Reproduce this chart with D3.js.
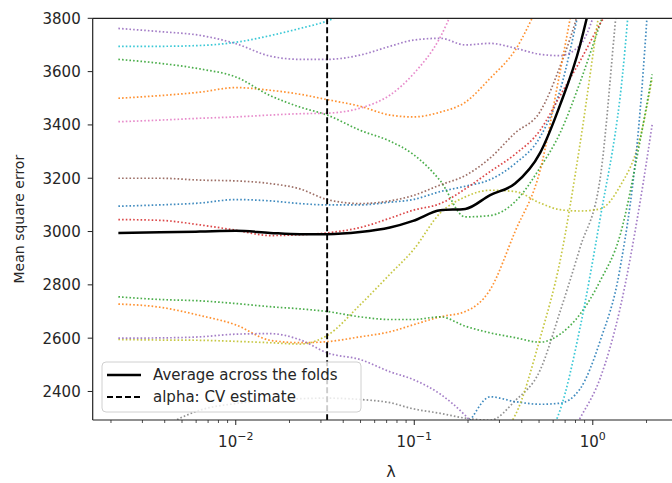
<!DOCTYPE html>
<html>
<head>
<meta charset="utf-8">
<script src="https://cdn.jsdelivr.net/npm/d3@7"></script>
<style>
  body { margin: 0; background: #fff; }
  svg { font-family: "DejaVu Sans", sans-serif; }
</style>
</head>
<body>
<div id="chart"></div>
<script>
// regularisation path (lambda) shared by every fold
const lambdas = [0.0022, 0.00377, 0.00631, 0.01, 0.0156, 0.0229, 0.0325, 0.0497, 0.0731, 0.0985,
  0.140, 0.193, 0.266, 0.367, 0.507, 0.656, 0.849, 1.10, 1.42, 1.84, 2.15];

// mean square error per fold
const foldPurpleA = [3762, 3750, 3736, 3705, 3658, 3646, 3646, 3662, 3695, 3718, 3725, 3700, 3706, 3688, 3665, 3660, 3700, 3900, 4300, 4700, 5000];
const foldCyanA   = [3695, 3695, 3698, 3710, 3735, 3762, 3790, 3850, 3950, 4050, 4200, 4400, 4600, 4800, 5000, 5200, 5400, 5600, 5800, 6000, 6200];
const foldGreenA  = [3646, 3631, 3610, 3580, 3510, 3467, 3437, 3380, 3339, 3290, 3190, 3055, 3060, 3112, 3240, 3370, 3560, 3780, 4000, 4200, 4400];
const foldOrangeA = [3500, 3510, 3523, 3540, 3530, 3515, 3495, 3470, 3437, 3430, 3448, 3485, 3575, 3680, 3860, 4000, 4200, 4400, 4600, 4800, 5000];
const foldPinkA   = [3412, 3418, 3425, 3430, 3437, 3442, 3444, 3463, 3512, 3590, 3730, 3950, 4200, 4400, 4600, 4800, 5000, 5200, 5400, 5600, 5800];
const foldBrownA  = [3200, 3200, 3193, 3190, 3180, 3160, 3120, 3105, 3115, 3135, 3175, 3210, 3276, 3370, 3450, 3620, 3850, 4200, 4500, 4800, 5000];
const foldBlueA   = [3095, 3100, 3107, 3120, 3115, 3105, 3100, 3100, 3110, 3120, 3150, 3170, 3195, 3255, 3355, 3530, 3850, 4200, 4500, 4800, 5000];
const foldRedA    = [3045, 3042, 3025, 3005, 2985, 2988, 2995, 3015, 3050, 3080, 3105, 3160, 3225, 3290, 3380, 3510, 3640, 3780, 3900, 4100, 4300];
const foldGreenB  = [2755, 2745, 2740, 2730, 2718, 2710, 2700, 2680, 2670, 2670, 2680, 2645, 2620, 2602, 2585, 2615, 2690, 2815, 2985, 3340, 3590];
const foldOrangeB = [2728, 2716, 2685, 2650, 2592, 2583, 2587, 2605, 2624, 2650, 2680, 2700, 2782, 3000, 3230, 3600, 4000, 4400, 4800, 5000, 5200];
const foldPurpleB = [2600, 2601, 2605, 2615, 2617, 2594, 2545, 2520, 2474, 2445, 2390, 2310, 2200, 2150, 2130, 2170, 2300, 2450, 2710, 3110, 3400];
const foldOliveA  = [2595, 2593, 2592, 2588, 2583, 2578, 2610, 2725, 2840, 2930, 3070, 3130, 3155, 3150, 3107, 3082, 3077, 3085, 3170, 3350, 3575];
const foldGray    = [2150, 2260, 2330, 2355, 2368, 2373, 2375, 2370, 2358, 2335, 2318, 2300, 2292, 2365, 2480, 2700, 2940, 3200, 3950, 4400, 4700];
const foldOliveB  = [2000, 2000, 2010, 2020, 2030, 2040, 2050, 2060, 2080, 2100, 2130, 2170, 2220, 2310, 2600, 2890, 3330, 3850, 4300, 4700, 5000];
const foldBlueB   = [2050, 2060, 2070, 2080, 2090, 2100, 2110, 2130, 2150, 2180, 2220, 2270, 2380, 2362, 2352, 2356, 2410, 2590, 2860, 3450, 4100];
const foldCyanB   = [1950, 1950, 1960, 1970, 1980, 1990, 2000, 2010, 2020, 2040, 2060, 2080, 2110, 2150, 2200, 2330, 2640, 3050, 3500, 4300, 4600];

const avgMse = [2995, 2997, 3000, 3003, 2995, 2990, 2990, 2998, 3015, 3040, 3080, 3085, 3137, 3180, 3295, 3475, 3700, 4050, 4600, 5000, 5300];

const alphaCV = 0.0325;
const yTicks = [2400, 2600, 2800, 3000, 3200, 3400, 3600, 3800];
const xTickExps = [-2, -1, 0];
const legendLabels = ["Average across the folds", "alpha: CV estimate"];

const folds = [
  {values: foldBlueA, color: "#1f77b4"},
  {values: foldOrangeA, color: "#ff7f0e"},
  {values: foldGreenA, color: "#2ca02c"},
  {values: foldRedA, color: "#d62728"},
  {values: foldPurpleA, color: "#9467bd"},
  {values: foldBrownA, color: "#8c564b"},
  {values: foldPinkA, color: "#e377c2"},
  {values: foldGray, color: "#7f7f7f"},
  {values: foldOliveA, color: "#bcbd22"},
  {values: foldCyanA, color: "#17becf"},
  {values: foldBlueB, color: "#1f77b4"},
  {values: foldOrangeB, color: "#ff7f0e"},
  {values: foldGreenB, color: "#2ca02c"},
  {values: foldPurpleB, color: "#9467bd"},
  {values: foldOliveB, color: "#bcbd22"},
  {values: foldCyanB, color: "#17becf"}
];

const width = 672, height = 483;
const plot = {left: 92.7, right: 680, top: 18.3, bottom: 420};

const svg = d3.select("#chart").append("svg")
  .attr("width", width)
  .attr("height", height);

const x = d3.scaleLog().domain([0.00158, 3.08]).range([plot.left, plot.right]);
const y = d3.scaleLinear().domain([2293, 3800]).range([plot.bottom, plot.top]);

svg.append("clipPath").attr("id", "clip")
  .append("rect")
  .attr("x", plot.left).attr("y", plot.top)
  .attr("width", plot.right - plot.left).attr("height", plot.bottom - plot.top);

const area = svg.append("g").attr("clip-path", "url(#clip)");

const line = d3.line()
  .x((d, i) => x(lambdas[i]))
  .y(d => y(d))
  .curve(d3.curveMonotoneX);

// folds, dotted
area.selectAll(".fold")
  .data(folds)
  .enter()
  .append("path")
    .attr("class", "fold")
    .attr("fill", "none")
    .attr("stroke", d => d.color)
    .attr("stroke-width", 1.7)
    .attr("stroke-dasharray", "1.6,2.1")
    .attr("opacity", 0.85)
    .attr("d", d => line(d.values));

// average
area.append("path")
  .attr("fill", "none")
  .attr("stroke", "#000")
  .attr("stroke-width", 2.5)
  .attr("d", line(avgMse));

// CV estimate
area.append("line")
  .attr("x1", x(alphaCV)).attr("x2", x(alphaCV))
  .attr("y1", plot.top).attr("y2", plot.bottom)
  .attr("stroke", "#000")
  .attr("stroke-width", 1.9)
  .attr("stroke-dasharray", "6,3");

// spines
svg.append("line")
  .attr("x1", plot.left).attr("x2", plot.left)
  .attr("y1", plot.top).attr("y2", plot.bottom)
  .attr("stroke", "#222").attr("stroke-width", 1.2);
svg.append("line")
  .attr("x1", plot.left).attr("x2", plot.right)
  .attr("y1", plot.bottom).attr("y2", plot.bottom)
  .attr("stroke", "#222").attr("stroke-width", 1.2);
svg.append("line")
  .attr("x1", plot.left).attr("x2", plot.right)
  .attr("y1", plot.top).attr("y2", plot.top)
  .attr("stroke", "#222").attr("stroke-width", 1.2);

// y axis
const yAxis = svg.append("g");
yTicks.forEach(t => {
  yAxis.append("line")
    .attr("x1", plot.left - 5).attr("x2", plot.left)
    .attr("y1", y(t)).attr("y2", y(t))
    .attr("stroke", "#222").attr("stroke-width", 1);
  yAxis.append("text")
    .attr("x", plot.left - 12).attr("y", y(t))
    .attr("dy", "0.36em")
    .attr("text-anchor", "end")
    .attr("font-size", 15)
    .attr("fill", "#262626")
    .text(t);
});

// x axis (log ticks)
const xAxis = svg.append("g");
for (let e = -3; e <= 0; e++) {
  for (let m = 1; m <= 9; m++) {
    const v = m * Math.pow(10, e);
    const px = x(v);
    if (px < plot.left || px > plot.right) continue;
    xAxis.append("line")
      .attr("x1", px).attr("x2", px)
      .attr("y1", plot.bottom).attr("y2", plot.bottom + (m === 1 ? 5 : 3))
      .attr("stroke", "#222").attr("stroke-width", m === 1 ? 1 : 0.8);
  }
}
xTickExps.forEach(e => {
  const t = xAxis.append("text")
    .attr("x", x(Math.pow(10, e)))
    .attr("y", 447)
    .attr("text-anchor", "middle")
    .attr("font-size", 15)
    .attr("fill", "#262626");
  t.append("tspan").text("10");
  t.append("tspan").attr("dy", -7).attr("font-size", 11).text(e === 0 ? "0" : "\u2212" + Math.abs(e));
});

// axis labels
svg.append("text")
  .attr("transform", `translate(24,${(plot.top + plot.bottom) / 2}) rotate(-90)`)
  .attr("text-anchor", "middle")
  .attr("font-size", 14)
  .attr("fill", "#262626")
  .text("Mean square error");

svg.append("text")
  .attr("x", 391).attr("y", 477)
  .attr("text-anchor", "middle")
  .attr("font-size", 16)
  .attr("fill", "#262626")
  .text("\u03bb");

// legend
const legend = svg.append("g");
legend.append("rect")
  .attr("x", 102).attr("y", 362)
  .attr("width", 259).attr("height", 50)
  .attr("rx", 4)
  .attr("fill", "#fff").attr("fill-opacity", 0.8)
  .attr("stroke", "#d0d0d0");
legendLabels.forEach((label, i) => {
  const ly = 375 + i * 22;
  legend.append("line")
    .attr("x1", 107).attr("x2", 141)
    .attr("y1", ly).attr("y2", ly)
    .attr("stroke", "#000")
    .attr("stroke-width", i === 0 ? 2.5 : 1.9)
    .attr("stroke-dasharray", i === 0 ? null : "6,3");
  legend.append("text")
    .attr("x", 153).attr("y", ly)
    .attr("dy", "0.35em")
    .attr("font-size", 15)
    .attr("fill", "#262626")
    .text(label);
});
</script>
</body>
</html>
